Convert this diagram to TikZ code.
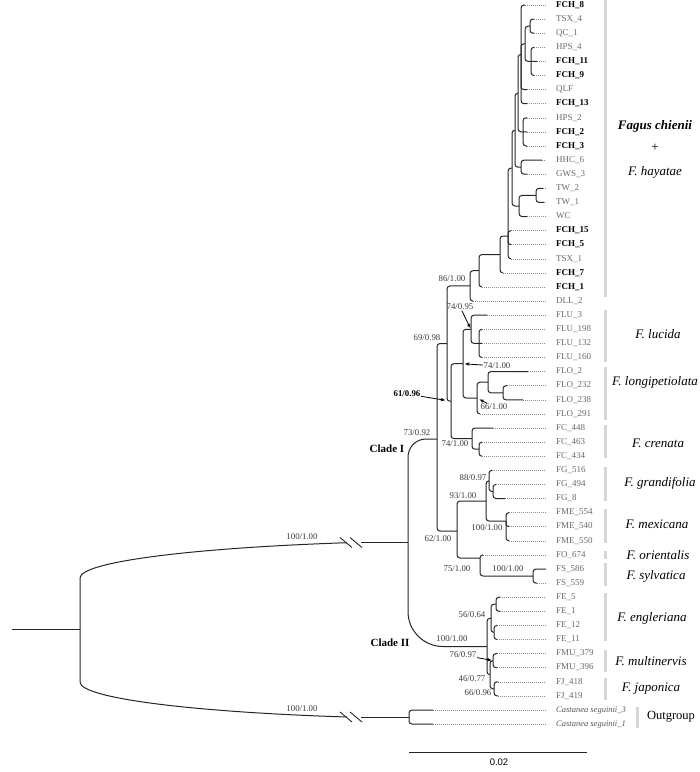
\documentclass[tikz,border=0pt]{standalone}
\usepackage{fontspec}
\setmainfont{Liberation Serif}
\newfontfamily\scaleFont{Liberation Sans}
\usetikzlibrary{arrows.meta}
\definecolor{branchDark}{HTML}{262626}
\definecolor{tipGray}{HTML}{6A6A6A}
\definecolor{leaderGray}{HTML}{8A8A8A}
\definecolor{barGray}{HTML}{D6D6D6}
\definecolor{supportGray}{HTML}{3A3A3A}
\tikzset{
  branch/.style={draw=branchDark, line width=1pt, rounded corners=3pt},
  leader/.style={draw=leaderGray, line width=0.6pt, dash pattern=on 0.7pt off 1.3pt},
  reg/.style={text=tipGray, font=\fontsize{9}{10}\selectfont, text height=6.5pt, text depth=2pt, inner sep=0pt},
  fch/.style={reg, text=black, font=\fontsize{9}{10}\selectfont\bfseries},
  cas/.style={reg, text=tipGray!80!black, font=\fontsize{8.5}{10}\selectfont\itshape},
  support/.style={text=supportGray, font=\fontsize{8.8}{10}\selectfont, inner sep=0.5pt},
  pointer/.style={-{Stealth[length=4.5pt,width=3.5pt]}, line width=0.8pt, black},
  groupname/.style={font=\fontsize{13}{15}\selectfont\itshape},
  cladename/.style={font=\fontsize{11}{13}\selectfont\bfseries},
}

\begin{document}
\begin{tikzpicture}[x=1pt, y=-1pt]
\useasboundingbox (0,0) rectangle (700,772);
% inner nodes of the tree
\foreach \n/\px/\py in {TQ/530/26.2, HF/531/61.4, V5/525/43.8, V3/521/54.4, V4/523/131.9, V1/518/93.2,
  V2/521/167.2, V/515/130.2, TW/536/195.4, W/519/206, U/512/168.1, T/508/236, S/500/254.5,
  R/479/270.7, 86/470/285.9, FLUb/479/343.4, FLU/471/329.3, FLOa/503/392.8, FLOb/488/382.2,
  FLO/477/398, D/463/363.7, FCa/479/449.2, FC/472/438.6, Q/451/401.2, P/447/343.5,
  FGa/493/491.5, FG/489/480.9, FME/506/521, K/486/501, FS/533/576, M/480/558, N/457/531,
  C1/437/439, FEa/496/604.2, FEb/494/632.4, FE/491/618.3, FMU/493/660.6, FJ/494/688.8,
  FMJ/490/674.7, C2/487/646.5, In/408/542.7, Out/409/717, Root/80/629.9}
  \coordinate (n\n) at (\px,\py);
% tips, leaders and labels
\foreach \k/\xe/\lab/\st in {0/525/FCH\_8/fch, 1/534/TSX\_4/reg, 2/534/QC\_1/reg, 3/534/HPS\_4/reg,
  4/537/FCH\_11/fch, 5/534/FCH\_9/fch, 6/527/QLF/reg, 7/527/FCH\_13/fch, 8/527/HPS\_2/reg,
  9/527/FCH\_2/fch, 10/527/FCH\_3/fch, 11/542/HHC\_6/reg, 12/527/GWS\_3/reg, 13/543/TW\_2/reg,
  14/544/TW\_1/reg, 15/527/WC/reg, 16/511/FCH\_15/fch, 17/511/FCH\_5/fch, 18/511/TSX\_1/reg,
  19/503/FCH\_7/fch, 20/482/FCH\_1/fch, 21/473/DLL\_2/reg, 22/487/FLU\_3/reg, 23/482/FLU\_198/reg,
  24/482/FLU\_132/reg, 25/482/FLU\_160/reg, 26/528/FLO\_2/reg, 27/507/FLO\_232/reg,
  28/523/FLO\_238/reg, 29/480/FLO\_291/reg, 30/493/FC\_448/reg, 31/482/FC\_463/reg,
  32/482/FC\_434/reg, 33/492/FG\_516/reg, 34/496/FG\_494/reg, 35/505/FG\_8/reg,
  36/509/FME\_554/reg, 37/509/FME\_540/reg, 38/509/FME\_550/reg, 39/483/FO\_674/reg,
  40/546/FS\_586/reg, 41/537/FS\_559/reg, 42/500/FE\_5/reg, 43/500/FE\_1/reg, 44/497/FE\_12/reg,
  45/497/FE\_11/reg, 46/497/FMU\_379/reg, 47/497/FMU\_396/reg, 48/498/FJ\_418/reg,
  49/498/FJ\_419/reg, 50/433/Castanea seguinii\_3/cas, 51/433/Castanea seguinii\_1/cas}{
  \pgfmathsetmacro\yy{5+14.1*\k}
  \coordinate (t\k) at (\xe,\yy);
  \node[style=\st, anchor=west] (l\k) at (556,\yy) {\lab};
  \draw[leader, shorten >=10pt] (t\k) -- (l\k.west);
}
% branches
\foreach \pa/\ch in {nV3/t0, nV3/nV5, nTQ/t1, nTQ/t2, nHF/t3, nHF/t5, nV5/nTQ, nV5/nHF, nV3/t6,
  nV3/t7, nV4/t8, nV4/t10, nV1/nV3, nV1/nV4, nV2/t11, nV2/t12, nV/nV1, nV/nV2, nTW/t13, nTW/t14,
  nW/nTW, nW/t15, nU/nV, nU/nW, nT/nU, nT/t16, nT/t17, nT/t18, nS/nT, nS/t19, nR/nS, nR/t20,
  n86/nR, n86/t21, nP/n86, nP/nQ, nQ/nD, nQ/nFC, nD/nFLU, nD/nFLO, nFLU/t22, nFLU/nFLUb,
  nFLUb/t23, nFLUb/t25, nFLO/nFLOb, nFLO/t29, nFLOb/t26, nFLOb/nFLOa, nFLOa/t27, nFLOa/t28,
  nFC/t30, nFC/nFCa, nFCa/t31, nFCa/t32, nC1/nP, nC1/nN, nN/nK, nN/nM, nK/nFG, nK/nFME,
  nFG/t33, nFG/nFGa, nFGa/t34, nFGa/t35, nFME/t36, nFME/t37, nFME/t38, nM/t39, nM/nFS, nFS/t40,
  nFS/t41, nC2/nFE, nC2/nFMJ, nFE/nFEa, nFE/nFEb, nFEa/t42, nFEa/t43, nFEb/t44, nFEb/t45,
  nFMJ/nFMU, nFMJ/nFJ, nFMU/t46, nFMU/t47, nFJ/t48, nFJ/t49, nOut/t50, nOut/t51}
  \draw[branch] (\pa) |- (\ch);
\foreach \pa/\ch in {nHF/t4, nV4/t9, nFLUb/t24}
  \draw[branch] (\pa) -- (\ch);
\draw[branch, rounded corners=18pt] (nIn) |- (nC1);
\draw[branch, rounded corners=35pt] (nIn) |- (nC2);
% root with broken branches
\coordinate (rootStart) at (12,629.9);
\coordinate (brkA1) at (347,542.7);
\coordinate (brkA2) at (361,542.7);
\coordinate (brkB1) at (347,717);
\coordinate (brkB2) at (361,717);
\draw[branch] (rootStart) -- (nRoot);
\draw[branch, sharp corners] (nRoot) -- (80,578) .. controls (80,562) and (190,548) .. (brkA1);
\draw[branch, sharp corners] (nRoot) -- (80,682) .. controls (80,698) and (190,712) .. (brkB1);
\draw[branch] (brkA2) -- (nIn);
\draw[branch] (brkB2) -- (nOut);
\draw[branchDark, line width=0.9pt] (340,537.5) -- (352,547.5) (350,537.5) -- (362,547.5);
\draw[branchDark, line width=0.9pt] (340,712) -- (352,722) (350,712) -- (362,722);
% support values
\node[support] (s86) at (452,279) {86/1.00};
\node[support] (s7495) at (460,307) {74/0.95};
\node[support] (s6998) at (427,338) {69/0.98};
\node[support] (s7410a) at (497,366) {74/1.00};
\node[support] (s6610) at (494,407) {66/1.00};
\node[support, text=black, font=\fontsize{8.8}{10}\selectfont\bfseries] (s6196) at (407,394) {61/0.96};
\node[support] (s7392) at (417,433) {73/0.92};
\node[support] (s7410b) at (455,444) {74/1.00};
\node[support] (s8897) at (473,478) {88/0.97};
\node[support] (s9310) at (463,496) {93/1.00};
\node[support] (s10010a) at (487,528) {100/1.00};
\node[support] (s6210) at (438,539) {62/1.00};
\node[support] (s7510) at (457,569) {75/1.00};
\node[support] (s10010b) at (508,569) {100/1.00};
\node[support] (s5664) at (472,615) {56/0.64};
\node[support] (s10010c) at (452,639) {100/1.00};
\node[support] (s7697) at (463,655) {76/0.97};
\node[support] (s4677) at (472,679) {46/0.77};
\node[support] (s6696) at (478,693) {66/0.96};
\node[support] (s10010d) at (302,537) {100/1.00};
\node[support] (s10010e) at (302,709) {100/1.00};
\draw[pointer, shorten >=1.5pt] (s7495) -- (nFLU);
\draw[pointer, shorten >=2pt] (s7410a) -- (nD);
\draw[pointer, shorten >=3pt] (s6610) -- (nFLO);
\draw[pointer, shorten >=6pt] (s6196) -- (nQ);
\draw[pointer, shorten >=1.5pt] (s7697) -- (nFMU);
\node[cladename] (cI) at (387,449) {Clade I};
\node[cladename] (cII) at (390,643) {Clade II};
% species bars and names
\foreach \ya/\yb in {0/297, 310/362, 367/420, 425/458, 467/501, 509/543, 551/559, 563/586,
  593/641, 650/672, 678/700}
  \fill[barGray] (603.5,\ya) rectangle (607,\yb);
\fill[barGray] (635.5,707) rectangle (639,728);
\node[groupname, font=\fontsize{13}{15}\selectfont\bfseries\itshape] (gChienii) at (655,126) {Fagus chienii};
\node[font=\fontsize{13}{15}\selectfont] (gPlus) at (655,148) {+};
\node[groupname] (gHayatae) at (655,172) {F. hayatae};
\foreach \g/\gx/\gy/\gt in {Lucida/658/334/lucida, Longi/655/382/longipetiolata,
  Crenata/658/443/crenata, Grand/660/483/grandifolia, Mexicana/657/524/mexicana,
  Orient/658/555/orientalis, Sylv/656/576/sylvatica, Engler/652/618/engleriana,
  Multi/651/661/multinervis, Japon/651/689/japonica}
  \node[groupname] (g\g) at (\gx,\gy) {F. \gt};
\node[font=\fontsize{12.5}{14}\selectfont] (gOut) at (671,717) {Outgroup};
% scale bar
\coordinate (sbL) at (409,752);
\coordinate (sbR) at (587,752);
\draw[branchDark, line width=0.9pt] (sbL) -- (sbR);
\node[font=\scaleFont\fontsize{9.5}{11}\selectfont] (sbLab) at (499,762) {0.02};
\end{tikzpicture}
\end{document}
